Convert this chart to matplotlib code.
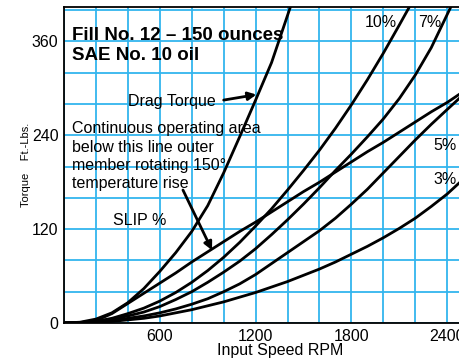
import matplotlib
matplotlib.use("Agg")
import matplotlib.pyplot as plt
from matplotlib.ticker import MultipleLocator

# values (rpm, ft-lbs)
drag_rpm = [0, 100, 200, 300, 400, 500, 600, 700, 800, 900, 1000, 1100,
            1200, 1300, 1416]
drag_torque = [0, 1, 5, 13, 26, 44, 66, 90, 117, 150, 192, 238,
               285, 333, 403]

slip10_rpm = [0, 100, 200, 300, 400, 500, 600, 700, 800, 900, 1000, 1100,
              1200, 1300, 1400, 1500, 1600, 1700, 1800, 1900, 2000, 2100,
              2160]
slip10_torque = [0, 0.5, 2, 6, 12, 19, 28, 39, 52, 67, 84, 103,
                 124, 146, 170, 195, 221, 249, 279, 311, 345, 381, 403]

limit_rpm = [0, 100, 200, 300, 400, 500, 600, 700, 800, 900, 1000, 1100,
             1200, 1300, 1400, 1500, 1600, 1700, 1800, 1900, 2000, 2100,
             2200, 2300, 2400, 2480]
limit_torque = [0, 0.5, 3, 12, 25, 38, 51, 64, 78, 91, 104, 117,
                129, 142, 155, 168, 180, 193, 206, 219, 231, 244,
                257, 270, 282, 293]

slip7_rpm = [0, 100, 200, 300, 400, 500, 600, 700, 800, 900, 1000, 1100,
             1200, 1300, 1400, 1500, 1600, 1700, 1800, 1900, 2000, 2100,
             2200, 2300, 2420]
slip7_torque = [0, 0.5, 2, 5, 9, 14, 21, 30, 40, 52, 65, 79,
                95, 113, 132, 152, 173, 195, 216, 238, 261, 287,
                317, 352, 403]

slip5_rpm = [0, 100, 200, 300, 400, 500, 600, 700, 800, 900, 1000, 1100,
             1200, 1300, 1400, 1500, 1600, 1700, 1800, 1900, 2000, 2100,
             2200, 2300, 2400, 2480]
slip5_torque = [0, 0.3, 1, 3, 6, 9, 13, 18, 24, 31, 40, 50,
                62, 76, 90, 104, 118, 134, 152, 171, 192, 213,
                234, 254, 273, 288]

slip3_rpm = [0, 100, 200, 300, 400, 500, 600, 700, 800, 900, 1000, 1100,
             1200, 1300, 1400, 1500, 1600, 1700, 1800, 1900, 2000, 2100,
             2200, 2300, 2400, 2480]
slip3_torque = [0, 0.2, 0.8, 2, 4, 6, 9, 13, 17, 22, 27, 33,
                39, 46, 53, 61, 69, 78, 88, 98, 109, 121,
                134, 149, 165, 180]

x_ticks = [600, 1200, 1800, 2400]
y_ticks = [0, 120, 240, 360]

GRID = "#33b5ee"

plt.rcParams["font.family"] = ["Liberation Sans", "DejaVu Sans"]

fig = plt.figure(figsize=(4.6, 3.6), dpi=100)
ax = fig.add_axes([64 / 460, 37 / 360, 396 / 460, 316 / 360])

ax.set_xlim(0, 2480)
ax.set_ylim(0, 404)
ax.xaxis.set_minor_locator(MultipleLocator(200))
ax.yaxis.set_minor_locator(MultipleLocator(40))
ax.set_xticks(x_ticks)
ax.set_yticks(y_ticks)
ax.set_xticklabels([str(v) for v in x_ticks])
ax.set_yticklabels([str(v) for v in y_ticks])
ax.grid(True, which="both", color=GRID, linewidth=1.3)
ax.set_axisbelow(True)
ax.tick_params(which="both", length=0, labelsize=11.5)
ax.tick_params(axis="y", pad=4)
ax.tick_params(axis="x", pad=4)
for side in ["left", "top", "bottom"]:
    ax.spines[side].set_linewidth(1.3)
ax.spines["right"].set_visible(False)

for xs, ys in [(drag_rpm, drag_torque), (slip10_rpm, slip10_torque),
               (limit_rpm, limit_torque), (slip7_rpm, slip7_torque),
               (slip5_rpm, slip5_torque), (slip3_rpm, slip3_torque)]:
    ax.plot(xs, ys, color="black", linewidth=2, solid_joinstyle="round")

ax.text(50, 362, "Fill No. 12 \u2013 150 ounces", fontsize=13.5,
        fontweight="bold", va="baseline")
ax.text(50, 336, "SAE No. 10 oil", fontsize=13.5, fontweight="bold",
        va="baseline")

ax.text(401, 277, "Drag Torque", fontsize=11.5, va="baseline")
ax.annotate("", xy=(1205, 292), xytext=(1000, 285),
            arrowprops=dict(arrowstyle="-|>", color="black", lw=2,
                            mutation_scale=12, shrinkA=0, shrinkB=0))

lines = ["Continuous operating area", "below this line outer",
         "member rotating 150\u00b0", "temperature rise"]
for txt, yb in zip(lines, [243, 219, 196, 173]):
    ax.text(50, yb, txt, fontsize=11.5, va="baseline")

ax.text(307, 125, "SLIP %", fontsize=11.5, va="baseline")
ax.annotate("", xy=(927, 93), xytext=(745, 170),
            arrowprops=dict(arrowstyle="-|>", color="black", lw=2,
                            mutation_scale=12, shrinkA=0, shrinkB=0))

ax.text(1885, 378, "10%", fontsize=11.5, va="baseline")
ax.text(2217, 378, "7%", fontsize=11.5, va="baseline")
ax.text(2311, 221, "5%", fontsize=11.5, va="baseline")
ax.text(2311, 178, "3%", fontsize=11.5, va="baseline")

fig.text(280 / 460, 5 / 360, "Input Speed RPM", fontsize=11.5,
         ha="center", va="baseline")
fig.text(26 / 460, 1 - 165 / 360, "Torque    Ft.-Lbs.", fontsize=8,
         rotation=90, ha="center", va="center")

fig.savefig("out.png", dpi=100)
plt.close(fig)
